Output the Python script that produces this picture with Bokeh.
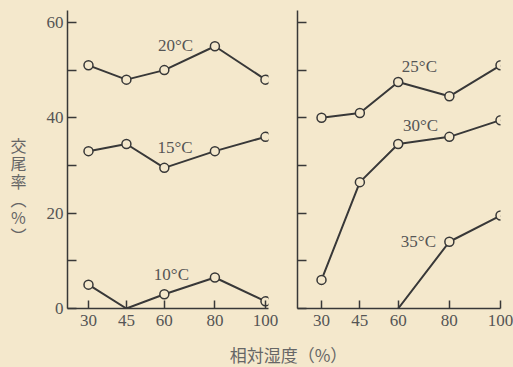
from bokeh.plotting import figure
from bokeh.models import Range1d, FixedTicker, Label
from bokeh.layouts import column, row
from bokeh.embed import file_html
from bokeh.resources import INLINE

# ---- data ----
humidity = [30, 45, 60, 80, 100]
rate_10 = [5, 0, 3, 6.5, 1.5]
rate_15 = [33, 34.5, 29.5, 33, 36]
rate_20 = [51, 48, 50, 55, 48]
rate_25 = [40, 41, 47.5, 44.5, 51]
rate_30 = [6, 26.5, 34.5, 36, 39.5]
humidity_35 = [60, 80, 100]
rate_35 = [0, 14, 19.5]

series_names_left = ["20°C", "15°C", "10°C"]
series_names_right = ["25°C", "30°C", "35°C"]
y_ticks = [0, 10, 20, 30, 40, 50, 60]
y_tick_labels = {0: "0", 10: "", 20: "20", 30: "", 40: "40", 50: "", 60: "60"}
y_tick_blank = {t: "" for t in y_ticks}
x_ticks = [30, 45, 60, 80, 100]
y_title = "交\n尾\n率\n︵\n%\n︶"
x_title = "相対湿度（%）"

# ---- style ----
BG = "#f4e8cc"
INK = "#383838"
TXT = "#555555"
TITLE = "#666666"
SERIF = "Liberation Serif"
CJK = "Noto Sans CJK JP"


def blank_fig(width, height):
    p = figure(width=width, height=height, x_range=Range1d(0, 1),
               y_range=Range1d(0, 1), x_axis_type=None, y_axis_type=None,
               output_backend="svg", toolbar_location=None, min_border=0)
    p.background_fill_color = BG
    p.border_fill_color = BG
    p.outline_line_color = None
    p.grid.visible = False
    return p


def make_fig(width, x_start, x_end, border_left, border_right, labels):
    p = figure(width=width, height=334, x_range=Range1d(x_start, x_end),
               y_range=Range1d(0, 62.5), output_backend="svg",
               toolbar_location=None, min_border_left=border_left,
               min_border_right=border_right, min_border_top=10,
               min_border_bottom=26)
    p.background_fill_color = BG
    p.border_fill_color = BG
    p.outline_line_color = None
    p.grid.visible = False
    for ax in (p.xaxis[0], p.yaxis[0]):
        ax.axis_line_color = INK
        ax.axis_line_width = 1.5
        ax.major_tick_line_color = INK
        ax.major_tick_line_width = 1.5
        ax.major_tick_out = 0
        ax.minor_tick_line_color = None
        ax.major_label_text_font = SERIF
        ax.major_label_text_font_size = "17px"
        ax.major_label_text_color = TXT
    p.xaxis.ticker = FixedTicker(ticks=x_ticks)
    p.xaxis.major_tick_in = 8
    p.xaxis.major_label_standoff = 6
    p.yaxis.ticker = FixedTicker(ticks=y_ticks)
    p.yaxis.major_tick_in = 9
    p.yaxis.major_label_overrides = labels
    p.yaxis.major_label_standoff = 4
    return p


def draw(p, xs, ys, name, lx, ly):
    p.line(xs, ys, line_color=INK, line_width=2)
    mx = [x for x, y in zip(xs, ys) if y > 0]
    my = [y for y in ys if y > 0]
    p.scatter(mx, my, marker="circle", size=9, fill_color=BG,
              line_color=INK, line_width=1.5)
    p.add_layout(Label(x=lx, y=ly, text=name, text_font=SERIF,
                       text_font_size="17px", text_color=TXT,
                       text_align="center", text_baseline="middle"))


# y title strip
pt = blank_fig(30, 334)
pt.add_layout(Label(x=18, y=119, x_units="screen", y_units="screen",
                    text=y_title, text_font=CJK, text_font_size="16px",
                    text_color=TITLE, text_align="center",
                    text_baseline="middle", text_line_height=0.75))

p1 = make_fig(253, 21.7, 101.2, 37, 15, y_tick_labels)
draw(p1, humidity, rate_20, series_names_left[0], 64.4, 55.2)
draw(p1, humidity, rate_15, series_names_left[1], 64.2, 33.7)
draw(p1, humidity, rate_10, series_names_left[2], 62.8, 7.2)

p2 = make_fig(230, 20.61, 100, 14, 13, y_tick_blank)
p2.yaxis.major_label_standoff = 0
draw(p2, humidity, rate_25, series_names_right[0], 68.3, 50.8)
draw(p2, humidity, rate_30, series_names_right[1], 68.7, 38.4)
draw(p2, humidity_35, rate_35, series_names_right[2], 67.9, 14.1)

p3 = blank_fig(513, 33)
p3.add_layout(Label(x=288, y=13, x_units="screen", y_units="screen",
                    text=x_title, text_font=CJK, text_font_size="17px",
                    text_color=TITLE, text_align="center",
                    text_baseline="middle"))

layout = column(row(pt, p1, p2), p3)
html = file_html(layout, INLINE)
style = "<style>html, body { background: %s !important; }</style>" % BG
html = html.replace("</head>", style + "</head>", 1)
open("out.html", "w").write(html)
